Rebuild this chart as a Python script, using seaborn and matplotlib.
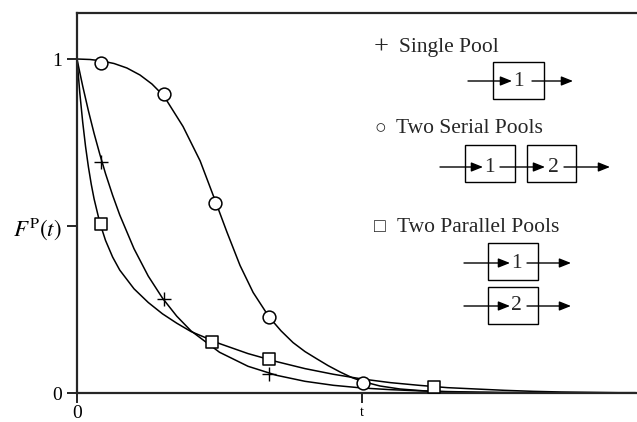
import matplotlib
matplotlib.use("Agg")
import matplotlib.pyplot as plt
import seaborn as sns
from matplotlib.patches import Rectangle

# curves (t in units of the marked tick, F^P(t))
t_grid = [0, 0.01, 0.02, 0.03, 0.04, 0.05, 0.06, 0.08, 0.1, 0.125, 0.15, 0.2, 0.25, 0.3,
          0.35, 0.4, 0.5, 0.6, 0.7, 0.8, 0.9, 1.0, 1.1, 1.2, 1.3, 1.4, 1.5, 1.6, 1.7,
          1.8, 1.9, 1.96]
F_single = [1.0, 0.959, 0.919, 0.882, 0.845, 0.811, 0.777, 0.715, 0.657, 0.592, 0.533,
            0.432, 0.350, 0.284, 0.230, 0.186, 0.122, 0.080, 0.053, 0.035, 0.023, 0.015,
            0.010, 0.0065, 0.0043, 0.0028, 0.0018, 0.0012, 0.0008, 0.0005, 0.0003, 0.0003]
F_parallel = [1.0, 0.897, 0.811, 0.738, 0.677, 0.625, 0.581, 0.510, 0.457, 0.407, 0.368,
              0.312, 0.271, 0.237, 0.209, 0.184, 0.148, 0.118, 0.094, 0.073, 0.056, 0.042,
              0.031, 0.023, 0.016, 0.012, 0.008, 0.005, 0.003, 0.002, 0.001, 0.001]

t_serial = [0, 0.046, 0.084, 0.130, 0.175, 0.221, 0.263, 0.305, 0.372, 0.432, 0.484,
            0.526, 0.572, 0.618, 0.674, 0.716, 0.758, 0.800, 0.842, 0.881, 0.923, 0.965,
            1.004, 1.063, 1.133, 1.239, 1.379, 1.554, 1.96]
F_serial = [1.0, 0.9985, 0.9946, 0.9865, 0.9731, 0.9521, 0.9251, 0.889, 0.798, 0.695,
            0.578, 0.482, 0.382, 0.301, 0.2275, 0.186, 0.151, 0.124, 0.102, 0.082, 0.063,
            0.046, 0.034, 0.021, 0.012, 0.005, 0.0015, 0.0, 0.0]

# marker positions
t_single_pts = [0.084, 0.305, 0.674]
F_single_pts = [0.692, 0.281, 0.057]
t_serial_pts = [0.084, 0.305, 0.484, 0.674, 1.004]
F_serial_pts = [0.988, 0.895, 0.569, 0.228, 0.030]
t_parallel_pts = [0.084, 0.474, 0.674, 1.253]
F_parallel_pts = [0.506, 0.153, 0.102, 0.018]

ytick_vals = [0, 0.5, 1]
ytick_labels = ["0", r"$F^{\mathrm{P}}(t)\;$", "1"]
xtick_vals = [0, 1]
xtick_labels = ["0", "t"]

legend_symbols = ["+", "\u25cb", "\u25a1"]
legend_labels = ["Single Pool", "Two Serial Pools", "Two Parallel Pools"]

sns.set_style("ticks")
plt.rcParams["font.family"] = ["Liberation Serif", "DejaVu Serif"]
plt.rcParams["mathtext.fontset"] = "stix"

fig = plt.figure(figsize=(6.37, 4.22), dpi=100)
ax = fig.add_axes([77 / 637, 29 / 422, 560 / 637, 380 / 422])

lw = 1.1
sns.lineplot(x=t_grid, y=F_single, ax=ax, color="black", lw=lw)
sns.lineplot(x=t_grid, y=F_parallel, ax=ax, color="black", lw=lw)
sns.lineplot(x=t_serial, y=F_serial, ax=ax, color="black", lw=lw)

sns.scatterplot(x=t_single_pts, y=F_single_pts, ax=ax, marker="+", s=90,
                color="black", linewidth=1.0, zorder=5)
sns.scatterplot(x=t_serial_pts, y=F_serial_pts, ax=ax, marker="o", s=85,
                facecolor="white", edgecolor="black", linewidth=1.1, zorder=5)
sns.scatterplot(x=t_parallel_pts, y=F_parallel_pts, ax=ax, marker="s", s=70,
                facecolor="white", edgecolor="black", linewidth=1.1, zorder=5)

ax.set_xlim(0, 560 / 285)
ax.set_ylim(0, 380 / 334)
ax.set_xticks(xtick_vals)
ax.set_xticklabels(xtick_labels, fontsize=14)
ax.get_xticklabels()[1].set_fontsize(10)
ax.set_yticks(ytick_vals)
ax.set_yticklabels(ytick_labels, fontsize=14)
ax.get_yticklabels()[1].set_fontsize(16.5)
ax.tick_params(axis="both", direction="out", length=7, width=1.2, colors="black")
ax.tick_params(axis="y", pad=4)
ax.tick_params(axis="x", pad=2)
for side in ["left", "top", "bottom"]:
    ax.spines[side].set_linewidth(1.6)
ax.spines["right"].set_visible(False)
ax.set_xlabel("")
ax.set_ylabel("")


def px(x, y):
    # pixel position of the reference -> axes fraction
    return ((x - 77) / 560, (393 - y) / 380)


# legend entries (symbol + text share the baseline)
sym_x = [381, 380, 380]
lab_pos = [(399, 52), (396, 133), (397, 232)]
for sx, (lx, ly), sym, lab in zip(sym_x, lab_pos, legend_symbols, legend_labels):
    ax.text(*px(sx, ly + (2 if sym == "+" else 0)), sym, transform=ax.transAxes,
            fontsize=19 if sym == "+" else 14, ha="center", va="baseline")
    ax.text(*px(lx, ly), lab, transform=ax.transAxes, fontsize=15.5, ha="left",
            va="baseline")

# pool diagrams
boxes = [(493, 62, 51, 37), (465, 145, 50, 37), (527, 145, 49, 37),
         (488, 243, 50, 37), (488, 287, 50, 37)]
for x, y, w, h in boxes:
    x0, y0 = px(x, y + h)
    ax.add_patch(Rectangle((x0, y0), w / 560, h / 380, transform=ax.transAxes,
                           fill=False, edgecolor="black", lw=1.0))

box_nums = [(518, 81, "1"), (489, 167, "1"), (553, 167, "2"), (516, 263, "1"), (516, 306, "2")]
for x, y, s in box_nums:
    ax.text(*px(x, y), s, transform=ax.transAxes, fontsize=15.5, ha="center", va="center")

arrows = [(468, 512, 81), (532, 573, 81),
          (440, 483, 167), (500, 545, 167), (564, 610, 167),
          (464, 510, 263), (527, 571, 263),
          (464, 510, 306), (527, 571, 306)]
for x0, x1, y in arrows:
    ax.annotate("", xy=px(x1, y), xytext=px(x0, y), xycoords="axes fraction",
                textcoords="axes fraction",
                arrowprops=dict(arrowstyle="-|>,head_length=0.7,head_width=0.28",
                                color="black", lw=1.0, shrinkA=0, shrinkB=0))

plt.savefig("out.png", dpi=100)
plt.close()
